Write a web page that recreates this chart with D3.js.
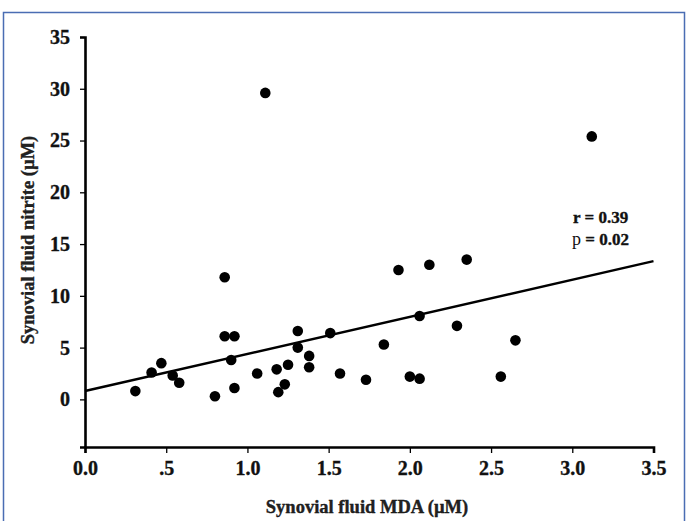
<!DOCTYPE html>
<html>
<head>
<meta charset="utf-8">
<script src="https://cdn.jsdelivr.net/npm/d3@7"></script>
<style>
  body { margin: 0; background: #fff; }
  text { font-family: "Liberation Serif", "Times New Roman", serif; }
</style>
</head>
<body>
<div id="chart"></div>
<script>
// values
const mda = [0.31, 0.41, 0.47, 0.54, 0.58, 0.80, 0.86, 0.92, 0.90, 0.92, 0.86, 1.06,
  1.11, 1.18, 1.19, 1.23, 1.25, 1.31, 1.31, 1.38, 1.38, 1.51, 1.57, 1.73, 1.84,
  1.93, 2.00, 2.06, 2.06, 2.12, 2.29, 2.35, 2.56, 2.65, 3.12];
const nitrite = [0.8, 2.6, 3.5, 2.3, 1.6, 0.3, 6.1, 6.1, 3.8, 1.1, 11.8, 2.5,
  29.6, 2.9, 0.7, 1.45, 3.35, 6.6, 5.0, 4.2, 3.1, 6.4, 2.5, 1.9, 5.3,
  12.5, 2.2, 2.0, 8.05, 13.0, 7.1, 13.5, 2.2, 5.7, 25.4];

// fitted line end points
const fitX = [0, 3.5];
const fitY = [0.8, 13.35];

const xTicks = [0, 0.5, 1.0, 1.5, 2.0, 2.5, 3.0, 3.5];
const xTickLabels = ["0.0", ".5", "1.0", "1.5", "2.0", "2.5", "3.0", "3.5"];
const yTicks = [0, 5, 10, 15, 20, 25, 30, 35];

const stats = ["r = 0.39", "p = 0.02"];

const width = 687, height = 521;

const svg = d3.select("#chart").append("svg")
    .attr("width", width)
    .attr("height", height);

// blue frame round the figure
svg.append("path")
    .attr("d", `M3.5,${height + 2}V12.5H684.5V${height + 2}`)
    .attr("fill", "none")
    .attr("stroke", "#4a6db3")
    .attr("stroke-width", 1.5);

const x = d3.scaleLinear().domain([0, 3.5]).range([85, 653.5]);
const y = d3.scaleLinear().domain([-4.6, 35]).range([447, 37]);

// the scan's text is heavy, so give it a thin outline
function heavy(sel) {
  sel.attr("stroke", "#111").attr("stroke-width", 0.35);
}

function styleTicks(g) {
  g.select(".domain").attr("stroke-width", 2.6);
  g.selectAll(".tick line").attr("stroke-width", 1.3);
  g.selectAll(".tick text")
      .attr("font-family", "Liberation Serif")
      .attr("font-weight", "bold")
      .attr("font-size", 20)
      .attr("fill", "#111")
      .call(heavy);
}

// x axis
svg.append("g")
    .attr("transform", `translate(0,${y(-4.6)})`)
    .call(d3.axisBottom(x).tickValues(xTicks)
        .tickFormat((d, i) => xTickLabels[i])
        .tickSizeOuter(0).tickSize(6).tickPadding(8))
    .call(styleTicks);

// y axis
svg.append("g")
    .attr("transform", `translate(${x(0)},0)`)
    .call(d3.axisLeft(y).tickValues(yTicks)
        .tickSizeOuter(0).tickSize(5).tickPadding(10))
    .call(styleTicks);

// axis titles
svg.append("text")
    .attr("x", 367)
    .attr("y", 513)
    .attr("text-anchor", "middle")
    .attr("font-weight", "bold")
    .attr("font-size", 18.5)
    .attr("fill", "#222")
    .call(heavy)
    .text("Synovial fluid MDA (µM)");

svg.append("text")
    .attr("transform", "translate(34,240) rotate(-90)")
    .attr("text-anchor", "middle")
    .attr("font-weight", "bold")
    .attr("font-size", 18.5)
    .attr("fill", "#222")
    .call(heavy)
    .text("Synovial fluid nitrite (µM)");

// regression line
svg.append("line")
    .attr("x1", x(fitX[0])).attr("y1", y(fitY[0]))
    .attr("x2", x(fitX[1])).attr("y2", y(fitY[1]))
    .attr("stroke", "#000")
    .attr("stroke-width", 2.5);

// points
svg.append("g")
    .selectAll("circle")
    .data(d3.zip(mda, nitrite))
    .join("circle")
    .attr("cx", d => x(d[0]))
    .attr("cy", d => y(d[1]))
    .attr("r", 5.3)
    .attr("fill", "#000");

// r and p
const ann = svg.append("g").attr("fill", "#111");
ann.append("text")
    .attr("x", 573).attr("y", 223)
    .attr("font-weight", "bold")
    .attr("font-size", 17)
    .call(heavy)
    .text(stats[0]);
const pt = ann.append("text")
    .attr("x", 572).attr("y", 245)
    .attr("font-size", 18);
pt.append("tspan").text(stats[1].slice(0, 1));
pt.append("tspan").attr("font-weight", "bold").attr("font-size", 17)
    .attr("stroke", "#111").attr("stroke-width", 0.35)
    .text(stats[1].slice(1));
</script>
</body>
</html>
